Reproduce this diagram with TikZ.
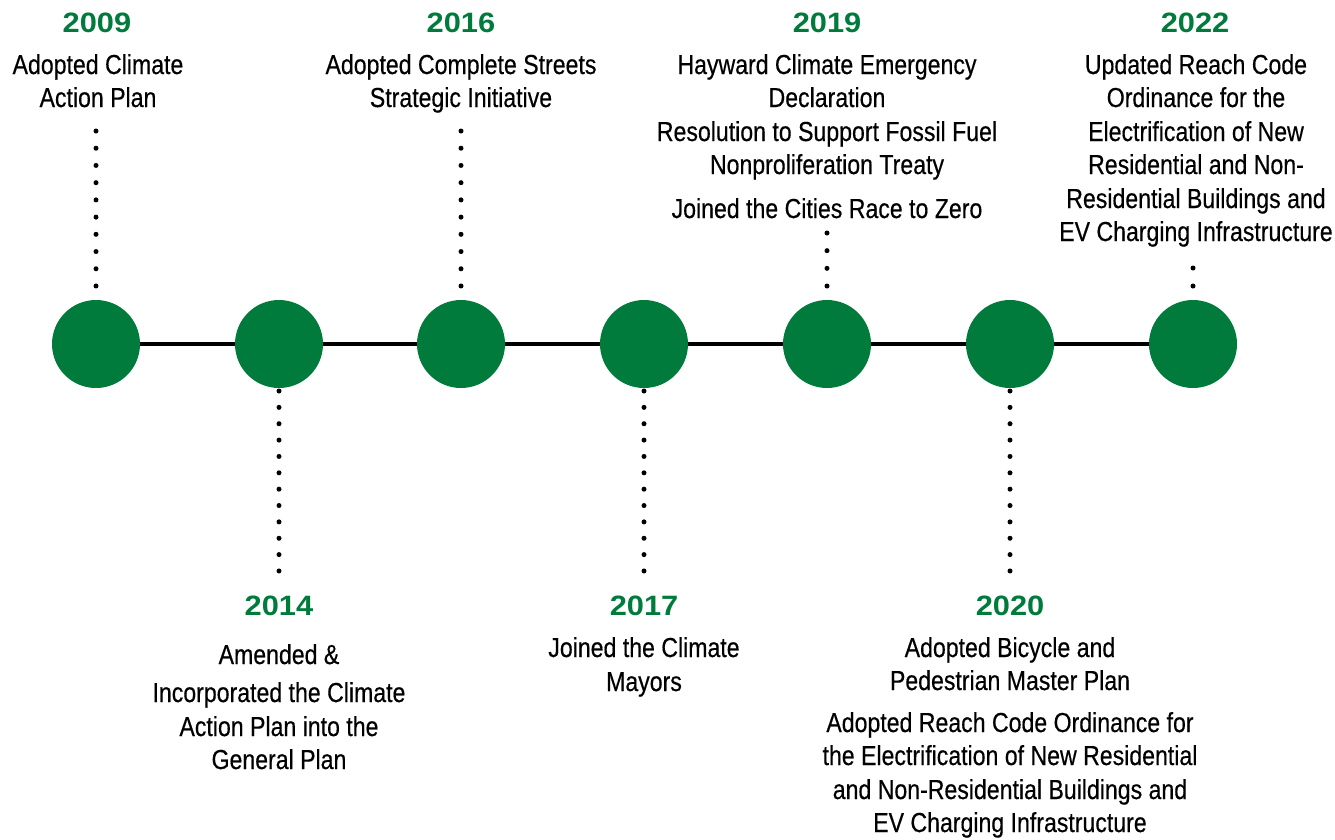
\documentclass[tikz,border=0pt]{standalone}
\usepackage{fontspec}
\newfontfamily\bodyfont[FakeStretch=0.84,FakeBold=0.4]{Liberation Sans}
\newfontfamily\yearfont[FakeStretch=1.1]{Liberation Sans}
\definecolor{tlgreen}{RGB}{0,123,60}
\tikzset{
  yearlabel/.style={anchor=base, inner sep=0pt, text=tlgreen, font=\yearfont\bfseries\fontsize{28}{30}\selectfont},
  bodyline/.style={anchor=base, inner sep=0pt, text=black, font=\bodyfont\fontsize{27.5}{33}\selectfont},
  milestone/.style={circle, fill=tlgreen, minimum size=88pt, inner sep=0pt},
  dotline/.style={line width=5pt, line cap=round, dash pattern=on 0pt off #1},
  axis/.style={line width=4pt, black}
}
\begin{document}
\begin{tikzpicture}[x=1pt,y=-1pt]
\useasboundingbox (0,0) rectangle (1335,839);
% axis
\coordinate (aL) at (96,344);
\coordinate (aR) at (1193,344);
\draw[axis] (aL) -- (aR);
% milestones
\node[milestone] (c09) at (96,344) {};
\node[milestone] (c14) at (279,344) {};
\node[milestone] (c16) at (461,344) {};
\node[milestone] (c17) at (644,344) {};
\node[milestone] (c19) at (827,344) {};
\node[milestone] (c20) at (1010,344) {};
\node[milestone] (c22) at (1193,344) {};
% 2009
\node[yearlabel] (y09) at (97,32) {2009};
\node[bodyline] (t09a) at (98,74) {Adopted Climate};
\node[bodyline] (t09b) at (98,107) {Action Plan};
\coordinate (d09a) at (96,131);
\coordinate (d09b) at (96,286.4);
\draw[dotline=17.22pt] (d09a) -- (d09b);
% 2016
\node[yearlabel] (y16) at (461,32) {2016};
\node[bodyline] (t16a) at (461,74) {Adopted Complete Streets};
\node[bodyline] (t16b) at (461,107) {Strategic Initiative};
\coordinate (d16a) at (461,131);
\coordinate (d16b) at (461,286.4);
\draw[dotline=17.22pt] (d16a) -- (d16b);
% 2019
\node[yearlabel] (y19) at (827,32) {2019};
\node[bodyline] (t19a) at (827,74) {Hayward Climate Emergency};
\node[bodyline] (t19b) at (827,107) {Declaration};
\node[bodyline] (t19c) at (827,141) {Resolution to Support Fossil Fuel};
\node[bodyline] (t19d) at (827,174) {Nonproliferation Treaty};
\node[bodyline] (t19e) at (827,218) {Joined the Cities Race to Zero};
\coordinate (d19a) at (827,233);
\coordinate (d19b) at (827,286.4);
\draw[dotline=17.67pt] (d19a) -- (d19b);
% 2022
\node[yearlabel] (y22) at (1195,32) {2022};
\node[bodyline] (t22a) at (1196,74) {Updated Reach Code};
\node[bodyline] (t22b) at (1196,107) {Ordinance for the};
\node[bodyline] (t22c) at (1196,141) {Electrification of New};
\node[bodyline] (t22d) at (1196,174) {Residential and Non-};
\node[bodyline] (t22e) at (1196,208) {Residential Buildings and};
\node[bodyline] (t22f) at (1196,241) {EV Charging Infrastructure};
\coordinate (d22a) at (1193,268);
\coordinate (d22b) at (1193,286.4);
\draw[dotline=18pt] (d22a) -- (d22b);
% 2014
\coordinate (d14a) at (279,391);
\coordinate (d14b) at (279,571.4);
\draw[dotline=16.36pt] (d14a) -- (d14b);
\node[yearlabel] (y14) at (279,615) {2014};
\node[bodyline] (t14a) at (279,664) {Amended \&};
\node[bodyline] (t14b) at (279,702) {Incorporated the Climate};
\node[bodyline] (t14c) at (279,736) {Action Plan into the};
\node[bodyline] (t14d) at (279,769) {General Plan};
% 2017
\coordinate (d17a) at (644,391);
\coordinate (d17b) at (644,571.4);
\draw[dotline=16.36pt] (d17a) -- (d17b);
\node[yearlabel] (y17) at (644,615) {2017};
\node[bodyline] (t17a) at (644,657) {Joined the Climate};
\node[bodyline] (t17b) at (644,691) {Mayors};
% 2020
\coordinate (d20a) at (1010,391);
\coordinate (d20b) at (1010,571.4);
\draw[dotline=16.36pt] (d20a) -- (d20b);
\node[yearlabel] (y20) at (1010,615) {2020};
\node[bodyline] (t20a) at (1010,657) {Adopted Bicycle and};
\node[bodyline] (t20b) at (1010,690) {Pedestrian Master Plan};
\node[bodyline] (t20c) at (1010,732) {Adopted Reach Code Ordinance for};
\node[bodyline] (t20d) at (1010,765) {the Electrification of New Residential};
\node[bodyline] (t20e) at (1010,799) {and Non-Residential Buildings and};
\node[bodyline] (t20f) at (1010,832) {EV Charging Infrastructure};
\end{tikzpicture}
\end{document}
